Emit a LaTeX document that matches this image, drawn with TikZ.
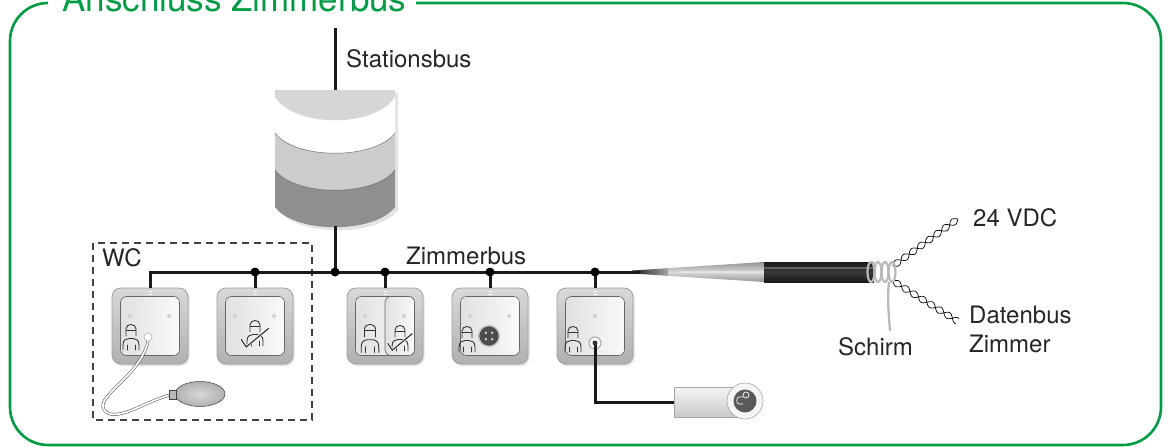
\documentclass[tikz,border=0pt]{standalone}
\usepackage{fontspec}
\setmainfont{TeX Gyre Heros}
\usetikzlibrary{shadows,shapes.geometric}
\definecolor{framegreen}{RGB}{0,155,68}
\tikzset{
  bus/.style={line width=3pt, black!90},
  plate/.style={draw=gray!75, line width=.8pt, rounded corners=9pt, minimum size=76pt, inner sep=0pt,
    top color=gray!30, bottom color=gray!62,
    drop shadow={opacity=.25, shadow xshift=1.5pt, shadow yshift=-2pt}},
  face/.style={draw=black!60, line width=.6pt, rounded corners=6pt, minimum size=59pt, inner sep=0pt,
    left color=gray!24, right color=gray!4},
  led/.style={draw=gray!70, fill=white, line width=.5pt},
  plug/.style={draw=gray!70, fill=white, line width=.5pt},
  txt/.style={font=\fontsize{24}{29}\selectfont, text=black!85, inner sep=0pt, anchor=base west},
  icon/.style={draw=black!80, line width=.9pt, line cap=round, line join=round},
  tube/.style={draw=gray!55!black, line width=.5pt, double=white, double distance=1.8pt},
  wire/.style={black, line width=.7pt},
  nurse/.pic={
    \draw[icon] (-5,0) -- (-5,-7) .. controls (-5,-13) and (5,-13) .. (5,-7) -- (5,0);
    \draw[icon] (-5,-6) -- (5,-6);
    \draw[icon] (-8,14) -- (-8,9) .. controls (-8,4) and (-5,2.5) .. (-2,2.5) -- (2,2.5)
      .. controls (5,2.5) and (8,4) .. (8,9) -- (8,14);
    \draw[icon] (-4,9) -- (-4,14) (4,9) -- (4,14);
  },
  nurse check/.pic={
    \pic {nurse};
    \draw[white, line width=2.6pt, line cap=round, line join=round] (-11,6) -- (-7,12) -- (11,-3);
    \draw[icon, line width=1.2pt] (-11,6) -- (-7,12) -- (11,-3);
  },
}
\begin{document}
\begin{tikzpicture}[x=1pt, y=-1pt]
\useasboundingbox (0,0) rectangle (1170,447);

\node[text=framegreen, font=\fontsize{35}{40}\selectfont, inner sep=0pt, anchor=base west] (title) at (62,11) {Anschluss Zimmerbus};
\draw[framegreen, line width=2.6pt, rounded corners=38pt] (48,3) -- (10,3) -- (10,445) -- (1161,445) -- (1161,3) -- (416,3);

\coordinate (stat) at (335,28);
\coordinate (kop top) at (335,90);
\coordinate (kop bot) at (335,226);
\coordinate (bus) at (640,272);
\draw[bus] (stat) -- (kop top);
\node[txt] (stationsbus) at (346,67) {Stationsbus};

\path[fill=white, drop shadow={opacity=.22, shadow xshift=3pt, shadow yshift=-3pt}] (275,90) -- (395,90) -- (395,207) .. controls (375,234) and (295,234) .. (275,207) -- cycle;
\fill[black!16] (275,90) -- (395,90) -- (395,97) .. controls (375,128) and (295,128) .. (275,97) -- cycle;
\fill[black!20] (275,133) .. controls (295,160) and (375,160) .. (395,133) -- (395,170) .. controls (375,197) and (295,197) .. (275,170) -- cycle;
\fill[black!44] (275,170) .. controls (295,197) and (375,197) .. (395,170) -- (395,207) .. controls (375,234) and (295,234) .. (275,207) -- cycle;
\draw[black!55, line width=.5pt] (275,133) .. controls (295,160) and (375,160) .. (395,133) (275,170) .. controls (295,197) and (375,197) .. (395,170);

\draw[dashed, dash pattern=on 7pt off 5pt, line width=1.2pt, black!75] (93,243) rectangle (312,420);
\node[txt] (wc) at (102,266) {WC};

\node[plate] (d1) at (150,326) {};
\node[plate] (d2) at (255,326) {};
\node[plate] (d3) at (385,326) {};
\node[plate] (d4) at (490,326) {};
\node[plate] (d5) at (595,326) {};

\coordinate (j2) at (d2.north |- bus);
\coordinate (jk) at (kop bot |- bus);
\coordinate (j3) at (d3.north |- bus);
\coordinate (j4) at (d4.north |- bus);
\coordinate (j5) at (d5.north |- bus);
\shade[top color=gray!85, bottom color=gray!85, middle color=gray!30] (632,270.5) -- (764,262) -- (764,282) -- (632,273.5) -- cycle;
\shade[left color=black!90, right color=gray!70] (632,270.6) -- (668,268.3) -- (668,275.7) -- (632,273.4) -- cycle;
\draw[bus] (d1.north) |- (bus);
\draw[bus] (kop bot) -- (jk);
\foreach \j/\d in {j2/d2, j3/d3, j4/d4, j5/d5}
  \draw[bus] (\j) -- (\d.north);
\foreach \j in {j2, jk, j3, j4, j5}
  \fill[black] (\j) circle (4.5pt);
\node[txt] (zimmerbus) at (406,264) {Zimmerbus};

\node[face] (d1f) at (d1) {};
\node[face] (d2f) at (d2) {};
\node[face] (d3f) at (d3) {};
\node[face] (d4f) at (d4) {};
\node[face] (d5f) at (d5) {};
\draw[black!60, line width=.6pt, left color=gray!24, right color=gray!4, rounded corners=6pt] (385,296.5) rectangle (414.5,355.5);

\foreach \d in {d1, d2, d3, d4, d5}
  \draw[white, line width=.7pt] ([xshift=-1.5pt, yshift=-4pt]\d.north) -- ([xshift=1.5pt, yshift=-4pt]\d.north)
    ([xshift=-1.5pt, yshift=-7pt]\d.north) -- ([xshift=1.5pt, yshift=-7pt]\d.north);
\foreach \d in {d1, d2, d3, d4}
  \draw[led] ([xshift=-20pt]\d) ++(0,-10) circle (1.6pt) ([xshift=19pt]\d) ++(0,-10) circle (1.6pt);
\draw[led] (d5) ++(0,-10) circle (1.6pt);

\pic at (131,336) {nurse};
\pic[scale=1.25] at (255,332) {nurse check};
\pic[scale=1.1] at (370,337) {nurse};
\pic[scale=1.1] at (400,337) {nurse check};
\pic at (467,338) {nurse};
\pic at (573,338) {nurse};

\node[circle, fill=black!70, draw=gray!45, line width=1.5pt, minimum size=21pt, inner sep=0pt] (d4s) at (489,336) {};
\foreach \a in {45,135,225,315}
  \fill[gray!25] (d4s) ++(\a:4.5pt) circle (1.3pt);

\node[ellipse, minimum width=50pt, minimum height=25pt, draw=gray!50!black, line width=.5pt, inner color=gray!30, outer color=gray!62] (bulb) at (200,394) {};
\node[plug, circle, minimum size=8pt, inner sep=0pt] (d1s) at (148,337) {};
\draw[tube] (d1s.south) .. controls (140,378) and (90,398) .. (106,412) .. controls (120,422) and (150,398) .. (bulb.west);
\draw[gray!50!black, line width=.5pt, fill=gray!55] ([xshift=-6pt, yshift=-5pt]bulb.west) rectangle ([xshift=1pt, yshift=4pt]bulb.west);

\node[draw=gray!70, line width=.6pt, minimum width=62pt, minimum height=30pt, inner sep=0pt, top color=gray!8, bottom color=gray!42] (pear) at (705,402) {};
\node[plug, circle, minimum size=12pt, inner sep=0pt, line width=1pt] (d5s) at (595,343) {};
\draw[bus] (d5s.center) |- (pear.west);
\fill[black!80] (d5s) circle (2.5pt);
\node[circle, draw=gray!70, fill=gray!8, line width=.6pt, minimum size=36pt, inner sep=0pt] (cap) at (745,401) {};
\node[circle, fill=black!65, minimum size=23pt, inner sep=0pt] (capin) at (cap) {};
\draw[white, line width=.7pt] (capin) ++(1,-3) arc[start angle=90, end angle=-270, radius=3] ;
\draw[white, line width=.7pt] (739,397) -- (743,397) (739,404) -- (743,404) (739,397) .. controls (736,397) and (736,404) .. (739,404);

\draw[white, opacity=.35, line width=2pt] (680,272) -- (764,272);
\shade[top color=black!90, bottom color=black!90, middle color=gray!45!black] (764,262) rectangle (874,282);
\draw[white, opacity=.25, line width=1.5pt] (764,268) -- (874,268);

\begin{scope}[shift={(893,266)}, rotate=36]
  \draw[wire] plot[domain=0:80, samples=80, smooth] (\x, {3.2*sin(\x*18)});
  \draw[wire] plot[domain=0:80, samples=80, smooth] (\x, {-3.2*sin(\x*18)});
\end{scope}
\begin{scope}[shift={(893,281)}, rotate=-32]
  \draw[wire] plot[domain=0:76, samples=80, smooth] (\x, {3.2*sin(\x*18)});
  \draw[wire] plot[domain=0:76, samples=80, smooth] (\x, {-3.2*sin(\x*18)});
\end{scope}
\draw[gray!55, line width=2.3pt] (889,282) .. controls (887,300) and (889,315) .. (890,331);
\foreach \x in {871,878,885,892}
  \draw[gray!55, line width=2.2pt] (\x,272) ellipse (3.5 and 10);

\node[txt] (vdc) at (973,226) {24 VDC};
\node[txt] (daten) at (969,323) {Datenbus};
\node[txt] (zimmer) at (969,352) {Zimmer};
\node[txt] (schirm) at (838,355) {Schirm};
\end{tikzpicture}
\end{document}
